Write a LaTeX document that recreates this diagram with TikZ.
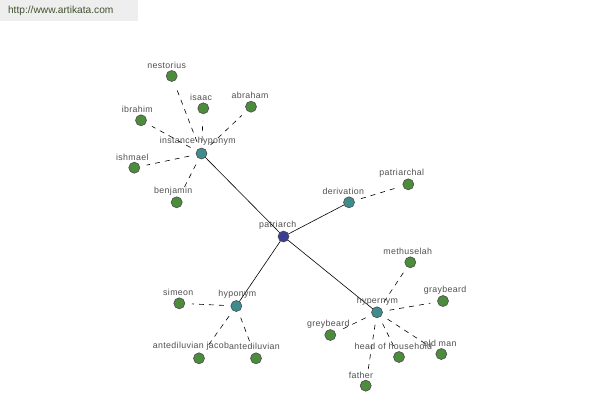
\documentclass[tikz,border=0pt]{standalone}
\usepackage{fontspec}
\setmainfont{Liberation Sans}
\newfontfamily\lblfont[LetterSpace=4]{Liberation Sans}
\begin{document}
\begin{tikzpicture}[x=1bp,y=-1bp,
  every node/.style={inner sep=0pt,outer sep=0pt},
  dot/.style={circle,minimum size=11bp,draw=black!70,line width=0.6bp},
  leaf/.style={dot,fill=leafgreen},
  mid/.style={dot,fill=tealc},
  root/.style={dot,fill=rootblue},
  lbl/.style={font=\lblfont\fontsize{8.8bp}{9bp}\selectfont,text=textgray,anchor=center},
  solidedge/.style={draw=black,line width=0.6bp},
  dashedge/.style={draw=black,line width=0.6bp,dash pattern=on 5bp off 5bp,shorten <=7bp,shorten >=7bp}]
\definecolor{leafgreen}{HTML}{4C8C3C}
\definecolor{tealc}{HTML}{3E8C8C}
\definecolor{rootblue}{HTML}{3A3C96}
\definecolor{textgray}{HTML}{505050}
\definecolor{hdrbg}{HTML}{EEEEEE}
\definecolor{hdrtext}{HTML}{3F5230}
\useasboundingbox[fill=white] (0,0) rectangle (600,400);
\fill[hdrbg] (0,0) rectangle (138,21);
\node[anchor=west,font=\fontsize{10.2bp}{12bp}\selectfont,text=hdrtext] (url) at (8,11) {http://www.artikata.com};

% hubs
\node[root] (patriarch) at (283.5,236.5) {};
\node[mid] (insthyp) at (201.5,153.5) {};
\node[mid] (deriv) at (349,202.3) {};
\node[mid] (hypo) at (236.3,306) {};
\node[mid] (hyper) at (377,312.3) {};
% leaves
\node[leaf] (nestorius) at (171.7,76) {};
\node[leaf] (isaac) at (203.3,108.3) {};
\node[leaf] (abraham) at (251,106.7) {};
\node[leaf] (ibrahim) at (141,120.3) {};
\node[leaf] (ishmael) at (134.3,167.7) {};
\node[leaf] (benjamin) at (176.7,202.3) {};
\node[leaf] (patriarchal) at (408.3,184.3) {};
\node[leaf] (simeon) at (179.3,303.3) {};
\node[leaf] (antedilA) at (199,358.3) {};
\node[leaf] (antedilB) at (256,358.3) {};
\node[leaf] (methuselah) at (410.3,262.3) {};
\node[leaf] (graybeard) at (443,301) {};
\node[leaf] (greybeard) at (330.3,335) {};
\node[leaf] (household) at (399,357) {};
\node[leaf] (oldman) at (441.3,354) {};
\node[leaf] (father) at (365.7,385.7) {};

% edges
\path[solidedge] (patriarch) -- (insthyp);
\path[solidedge] (patriarch) -- (deriv);
\path[solidedge] (patriarch) -- (hypo);
\path[solidedge] (patriarch) -- (hyper);
\foreach \t in {nestorius,isaac,abraham,ibrahim,ishmael,benjamin}
  \path[dashedge] (insthyp) -- (\t);
\path[dashedge] (deriv) -- (patriarchal);
\foreach \t in {simeon,antedilA,antedilB}
  \path[dashedge] (hypo) -- (\t);
\foreach \t in {methuselah,graybeard,greybeard,household,oldman,father}
  \path[dashedge] (hyper) -- (\t);

% labels
\node[lbl] (l1) at (166.7,65) {nestorius};
\node[lbl] (l2) at (201,97.3) {isaac};
\node[lbl] (l3) at (250,95) {abraham};
\node[lbl] (l4) at (137.3,109.3) {ibrahim};
\node[lbl] (l5) at (132.3,157.7) {ishmael};
\node[lbl] (l6) at (173.3,191) {benjamin};
\node[lbl] (l7) at (197.7,141.7) {instance hyponym};
\node[lbl] (l8) at (277.7,225) {patriarch};
\node[lbl] (l9) at (343.3,191) {derivation};
\node[lbl] (l10) at (401.7,173.3) {patriarchal};
\node[lbl] (l11) at (178.3,292.7) {simeon};
\node[lbl] (l12) at (237.3,294.3) {hyponym};
\node[lbl,anchor=east] (l13) at (229,346.7) {antediluvian jacob};
\node[lbl,anchor=west] (l14) at (229,346.7) {antediluvian};
\node[lbl] (l15) at (407.7,251) {methuselah};
\node[lbl] (l16) at (445,290.3) {graybeard};
\node[lbl] (l17) at (377.3,301) {hypernym};
\node[lbl] (l18) at (328.3,324) {greybeard};
\node[lbl] (l19) at (393.3,346) {head of household};
\node[lbl] (l20) at (440,343.3) {old man};
\node[lbl] (l21) at (361,375) {father};
\end{tikzpicture}
\end{document}
